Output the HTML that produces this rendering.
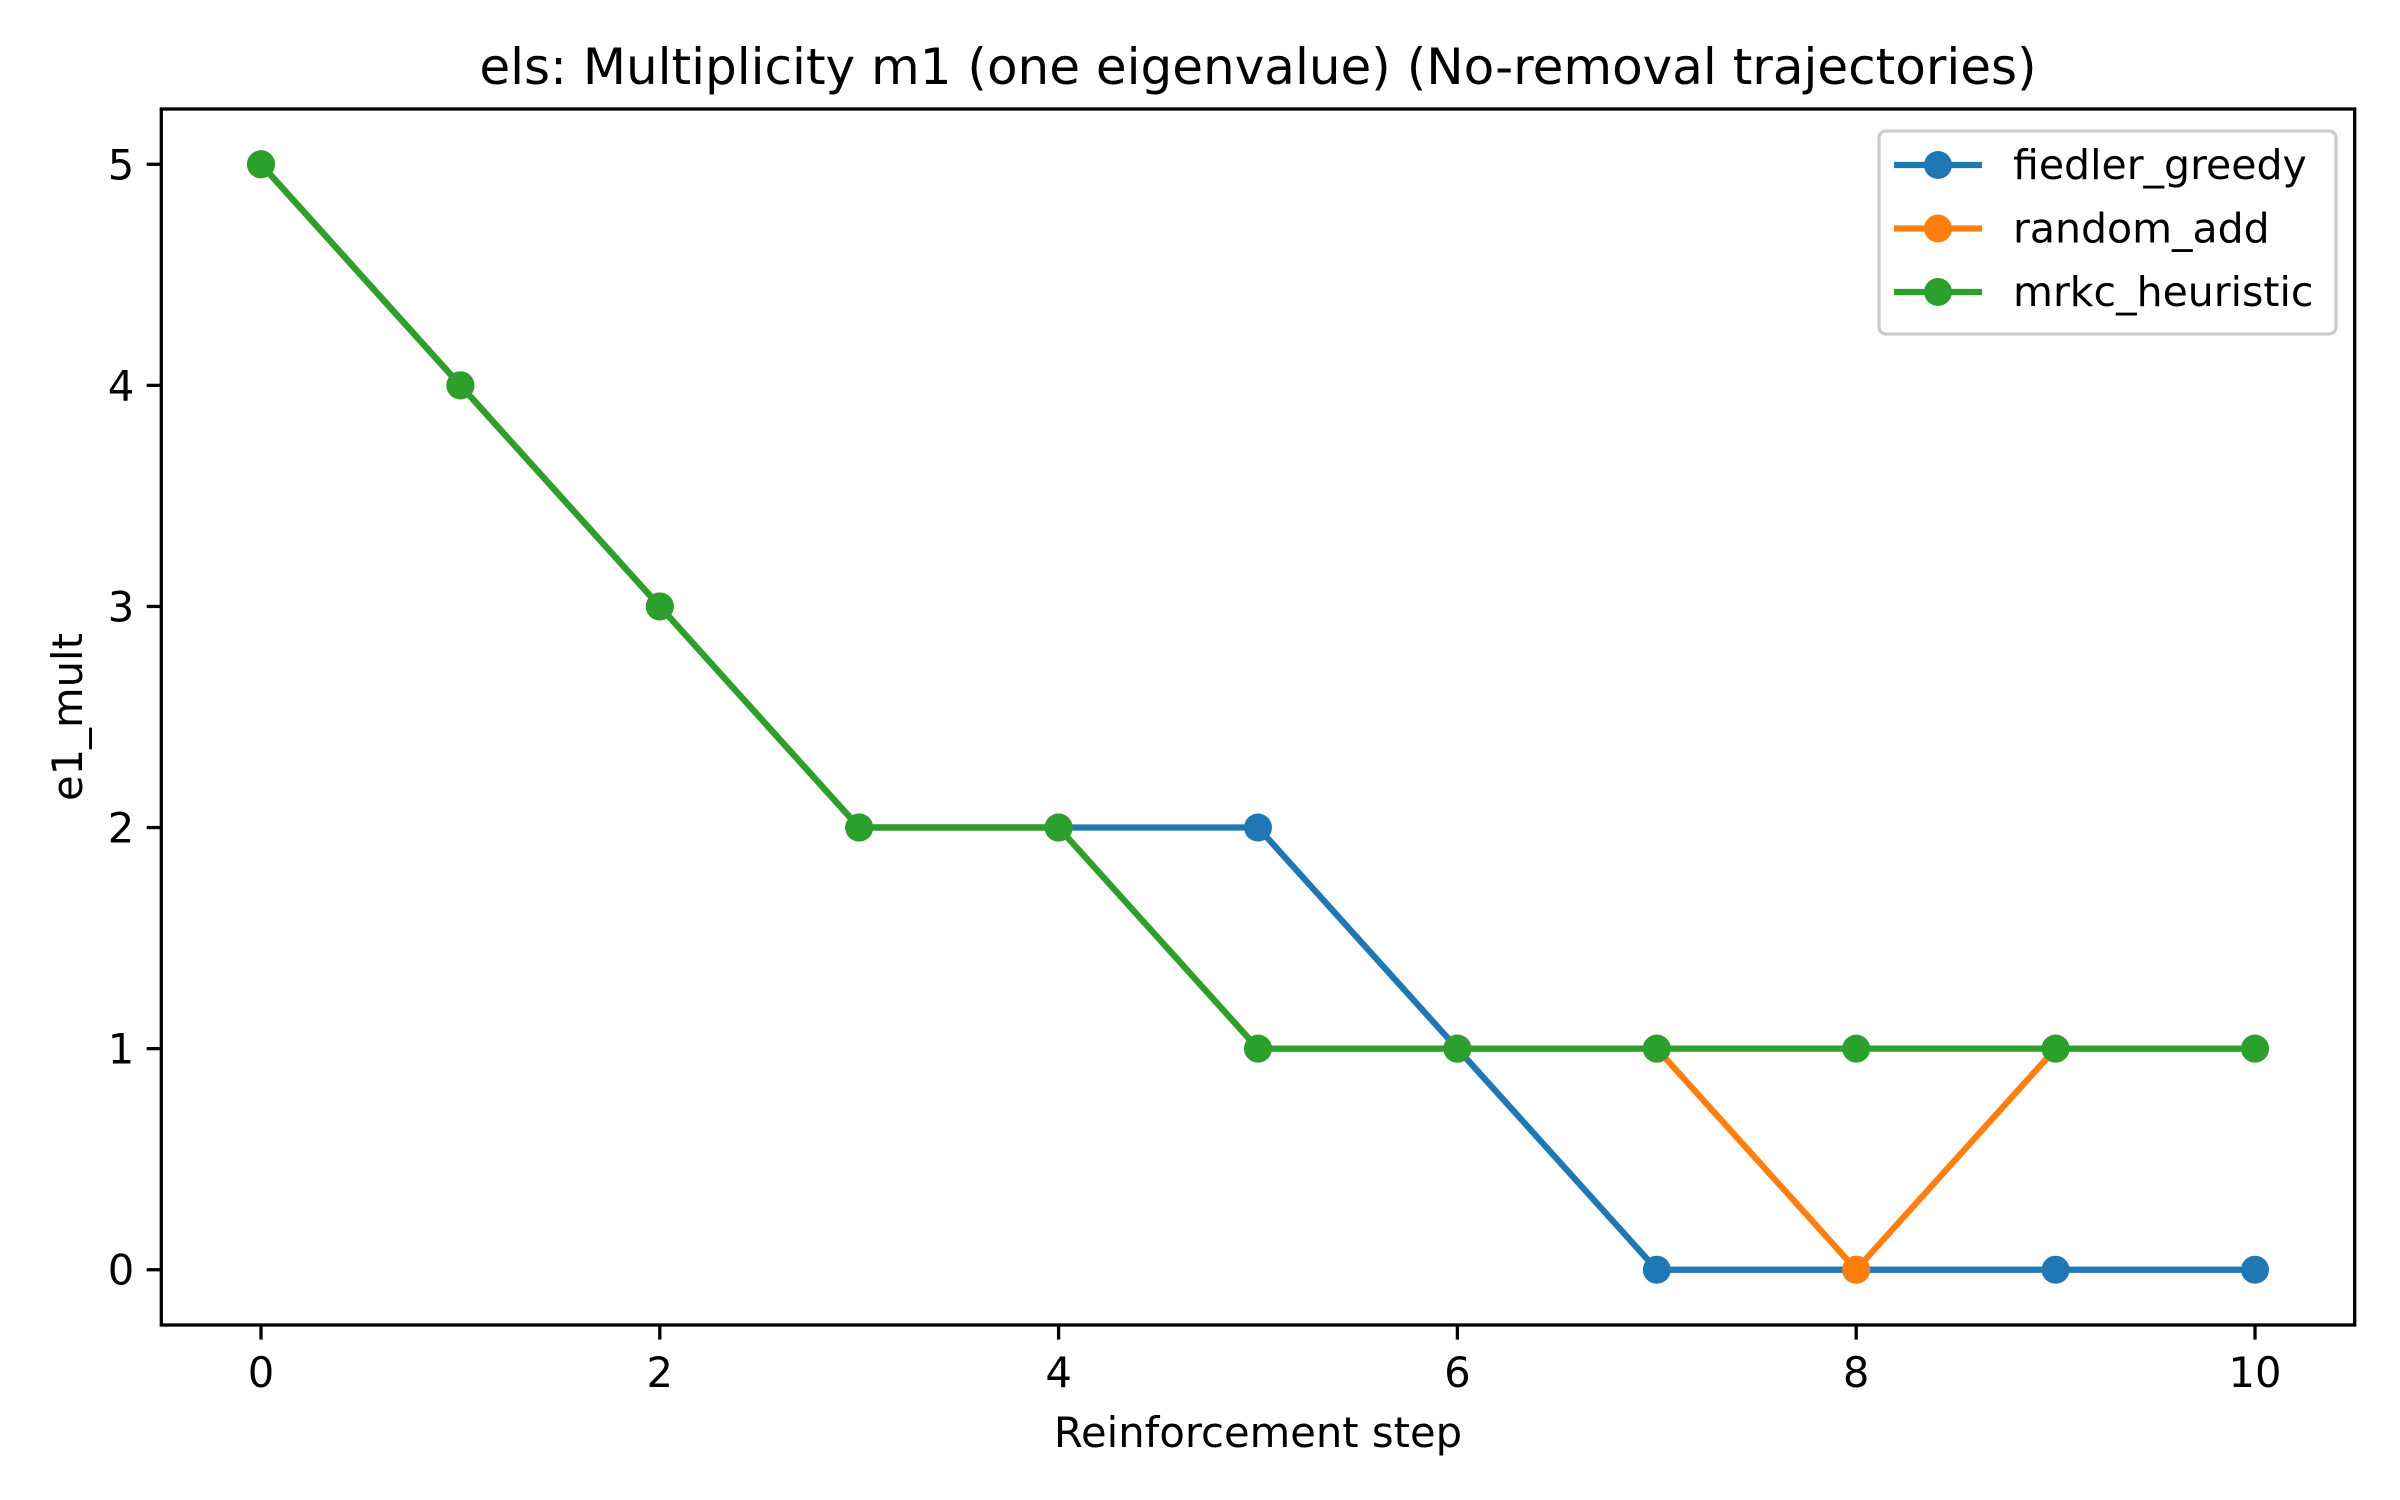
<!DOCTYPE html>
<html><head><meta charset="utf-8"><style>
html,body{margin:0;padding:0;background:#fff;}
svg{display:block;font-family:"DejaVu Sans","Liberation Sans",sans-serif;}
</style></head><body>
<svg id="chart" width="2400" height="1500" viewBox="0 0 2400 1500">
<rect width="2400" height="1500" fill="#fff"/>
<text x="1258" y="84" font-size="50" text-anchor="middle">els: Multiplicity m1 (one eigenvalue) (No-removal trajectories)</text>
<g id="plot"></g>
<text x="1258" y="1447" font-size="41.7" text-anchor="middle">Reinforcement step</text>
<text transform="translate(82,717) rotate(-90)" font-size="41.7" text-anchor="middle">e1_mult</text>
</svg>
<script>
const steps = [0,1,2,3,4,5,6,7,8,9,10];
const fiedlerGreedy = [5,4,3,2,2,2,1,0,0,0,0];
const randomAdd = [5,4,3,2,2,1,1,1,0,1,1];
const mrkcHeuristic = [5,4,3,2,2,1,1,1,1,1,1];
const seriesNames = ["fiedler_greedy","random_add","mrkc_heuristic"];
const xTicks = [0,2,4,6,8,10];
const yTicks = [0,1,2,3,4,5];

const L=161.3,R=2354.7,T=109,B=1325;
const xmin=-0.5,xmax=10.5,ymin=-0.25,ymax=5.25;
const sx=v=>L+(v-xmin)/(xmax-xmin)*(R-L);
const sy=v=>B-(v-ymin)/(ymax-ymin)*(B-T);
const NS="http://www.w3.org/2000/svg";
const g=document.getElementById('plot');
function mk(tag,attrs,parent){const e=document.createElementNS(NS,tag);for(const k in attrs)e.setAttribute(k,attrs[k]);(parent||g).appendChild(e);return e;}

const colors=["#1f77b4","#ff7f0e","#2ca02c"];
const allSeries=[fiedlerGreedy,randomAdd,mrkcHeuristic];
const MR=14;
allSeries.forEach((vals,i)=>{
  const pts=vals.map((v,j)=>sx(steps[j])+","+sy(v)).join(" ");
  const pl=mk('polyline',{points:pts,fill:"none",stroke:colors[i],"stroke-width":6.25,"stroke-linejoin":"round","stroke-linecap":"square"});
  
  
  vals.forEach((v,j)=>{
    const c=mk('circle',{cx:sx(steps[j]),cy:sy(v),r:MR,fill:colors[i]});
    
    
  });
});

const frame=mk('rect',{x:L,y:T,width:R-L,height:B-T,fill:"none",stroke:"#000","stroke-width":3.3});



xTicks.forEach(t=>{
  const x=sx(t);
  const tk=mk('line',{x1:x,x2:x,y1:B,y2:B+14.6,stroke:"#000","stroke-width":3.3});
  
  
  const tx=mk('text',{x:x,y:B+62,"font-size":41.7,"text-anchor":"middle"});
  tx.textContent=t;
  
  
});
yTicks.forEach(t=>{
  const y=sy(t);
  const tk=mk('line',{x1:L,x2:L-14.6,y1:y,y2:y,stroke:"#000","stroke-width":3.3});
  
  
  const tx=mk('text',{x:L-27,y:y+15,"font-size":41.7,"text-anchor":"end"});
  tx.textContent=t;
  
  
});

const LX=-10;
const leg=mk('g',{transform:"translate("+LX+",0)"});


const box=mk('rect',{x:1889,y:131,width:457,height:203,rx:7,fill:"#fff","fill-opacity":0.8,stroke:"#ccc","stroke-width":3.3},leg);


seriesNames.forEach((n,i)=>{
  const y=165+i*63.5;
  const ln=mk('line',{x1:1904,x2:1992,y1:y,y2:y,stroke:colors[i],"stroke-width":6.25},leg);
  
  
  const c=mk('circle',{cx:1948,cy:y,r:MR,fill:colors[i]},leg);
  
  
  const tx=mk('text',{x:2023,y:y+14,"font-size":41},leg);
  tx.textContent=n;
  
  
});
</script>
</body></html>
